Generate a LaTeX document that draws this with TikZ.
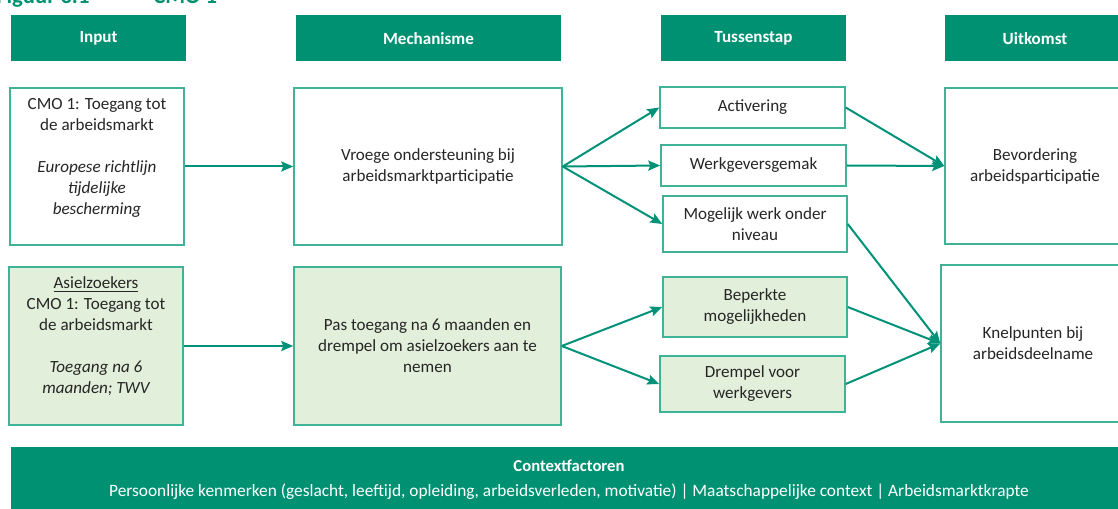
\documentclass[tikz,border=0pt]{standalone}
\usepackage{fontspec}
\setmainfont{Carlito}
\usetikzlibrary{arrows.meta}
\definecolor{hdr}{RGB}{0,145,115}
\definecolor{bord}{RGB}{64,178,152}
\definecolor{lfill}{RGB}{226,239,218}
\definecolor{arr}{RGB}{0,146,120}
\definecolor{txt}{RGB}{38,38,38}
\begin{document}
\begin{tikzpicture}[x=0.75pt,y=-0.75pt,
  sz/.style 2 args={minimum width=#1*0.75pt, minimum height=#2*0.75pt},
  hdrbox/.style={fill=hdr, text=white, inner sep=0pt, font=\bfseries\fontsize{12.8}{14}\selectfont},
  box/.style={draw=bord, line width=1.1pt, fill=white, text=txt, align=center, inner sep=0pt,
              font=\fontsize{12.8}{15.75}\selectfont},
  gbox/.style={box, fill=lfill},
  conn/.style={draw=arr, line width=1.5pt, -{Stealth[length=9pt,width=7.5pt,inset=1.5pt]}},
  ttl/.style={text=hdr, font=\bfseries\fontsize{17}{20}\selectfont, inner sep=0pt, anchor=base west}]
\useasboundingbox (0,0) rectangle (1118,509);
\clip (0,0) rectangle (1118,509);
% figure title (cut off at the top, as in the source)
\node[ttl] (fig) at (-4,4) {Figuur 3.1};
\node[ttl] (cmo) at (153,4) {CMO 1};
% headers
\node[hdrbox, sz={175}{46}] (hIn)   at (98.5,38.5)  {Input};
\node[hdrbox, sz={265}{46}] (hMech) at (428.5,38.5) {Mechanisme};
\node[hdrbox, sz={185}{46}] (hTus)  at (753.5,38.5) {Tussenstap};
\node[hdrbox, sz={180}{46}] (hUit)  at (1035,38.5)  {Uitkomst};
% row 1
\node[box, sz={174}{157}] (in1) at (97,166.5)
  {CMO 1: Toegang tot\\de arbeidsmarkt\\[15.75pt]\itshape Europese richtlijn\\\itshape tijdelijke\\\itshape bescherming\\[0pt]\mbox{}};
\node[box, sz={268}{157}] (mech1) at (428,166.5) {Vroege ondersteuning bij\\arbeidsmarktparticipatie};
\node[box, sz={185}{41}] (act) at (752.5,107.5) {Activering};
\node[box, sz={185}{41}] (wg) at (753.5,165.5) {Werkgeversgemak};
\node[box, sz={184}{56}] (mog) at (755,224) {Mogelijk werk onder\\niveau};
\node[box, sz={180}{156}] (bev) at (1035,166) {Bevordering\\arbeidsparticipatie};
% row 2
\node[gbox, sz={174}{158}] (in2) at (96,346)
  {\underline{Asielzoekers}\\CMO 1: Toegang tot\\de arbeidsmarkt\\[15.75pt]\itshape Toegang na 6\\\itshape maanden; TWV\\[0pt]\mbox{}};
\node[gbox, sz={267}{158}] (mech2) at (427.5,346) {Pas toegang na 6 maanden en\\drempel om asielzoekers aan te\\nemen};
\node[gbox, sz={184}{60}] (bep) at (755,307) {Beperkte\\mogelijkheden};
\node[gbox, sz={185}{56}] (drm) at (752.5,384) {Drempel voor\\werkgevers};
\node[box, sz={184}{157}] (kn) at (1033,343.5) {Knelpunten bij\\arbeidsdeelname};
% context bar
\node[fill=hdr, sz={1114}{68}, inner sep=0pt] (ctx) at (568,481) {};
\node[text=white, inner sep=0pt, font=\bfseries\fontsize{12.5}{14}\selectfont] (ctxt) at (569,466) {Contextfactoren};
\node[text=white, inner sep=0pt, font=\fontsize{13}{14}\selectfont] (ctxl) at (569,492)
  {Persoonlijke kenmerken (geslacht, leeftijd, opleiding, arbeidsverleden, motivatie) | Maatschappelijke context | Arbeidsmarktkrapte};
% connectors
\draw[conn] (in1.east) -- (mech1.west);
\draw[conn] (in2.east) -- (mech2.west);
\draw[conn] (mech1.east) -- (act.west);
\draw[conn] (mech1.east) -- (wg.west);
\draw[conn] (mech1.east) -- (mog.west);
\draw[conn] (mech2.east) -- (bep.west);
\draw[conn] (mech2.east) -- (drm.west);
\draw[conn] (act.east) -- (bev.west);
\draw[conn] (wg.east) -- (bev.west);
\draw[conn] (mog.east) -- (kn.west);
\draw[conn] (bep.east) -- (kn.west);
\draw[conn] (drm.east) -- (kn.west);
\end{tikzpicture}
\end{document}
